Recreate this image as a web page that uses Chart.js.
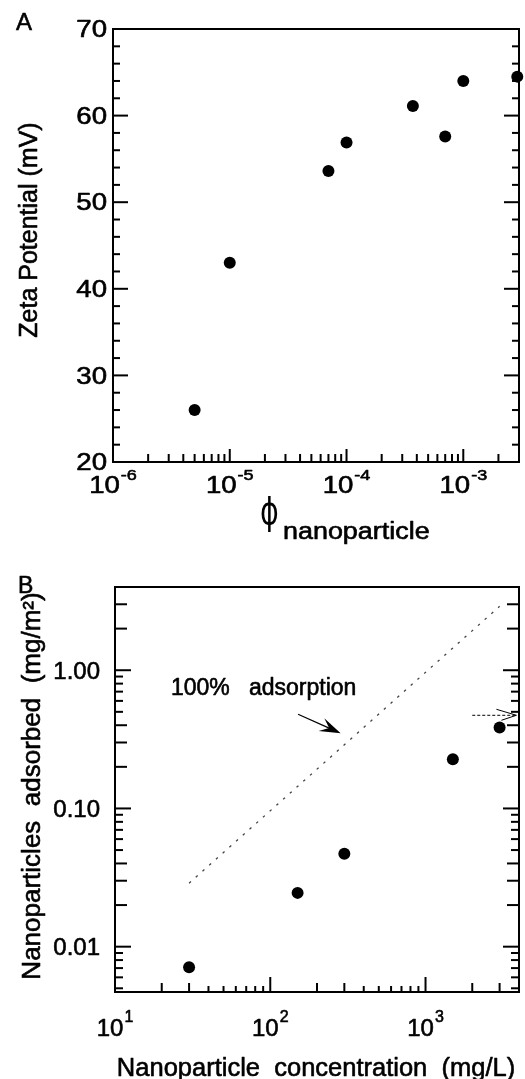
<!DOCTYPE html>
<html>
<head>
<meta charset="utf-8">
<script src="https://cdn.jsdelivr.net/npm/chart.js@4.4.1/dist/chart.umd.min.js"></script>
<style>
html, body { margin: 0; padding: 0; background: #fff; overflow: hidden; }
#wrapA { position: absolute; left: 0; top: 0; width: 525px; height: 550px; }
#wrapB { position: absolute; left: 0; top: 550px; width: 525px; height: 529px; }
</style>
</head>
<body>
<div id="wrapA"><canvas id="cA"></canvas></div>
<div id="wrapB"><canvas id="cB"></canvas></div>
<script>
// ---------- Panel A data ----------
const phiValues  = [5e-6, 1e-5, 7e-5, 1e-4, 3.7e-4, 7e-4, 1e-3, 2.9e-3];
const zetaValues = [26, 43, 53.6, 56.9, 61.1, 57.6, 64.0, 64.5];
const zetaTickValues = [20, 30, 40, 50, 60, 70];
const phiTickExponents = [-6, -5, -4, -3];

// ---------- Panel B data ----------
const concValues     = [30, 150, 300, 1500, 3000];
const adsorbedValues = [0.0071, 0.0245, 0.047, 0.227, 0.385];
const fullAdsorptionX = [30, 3000];
const fullAdsorptionY = [0.0288, 2.9];
const labelArrowX = [151, 284];
const labelArrowY = [0.48, 0.35];
const rightArrowX = [2000, 3850];
const rightArrowY = [0.472, 0.472];
const adsTickValues = [0.01, 0.1, 1];
const adsTickLabels = ['0.01', '0.10', '1.00'];
const concTickExponents = [1, 2, 3];

const FONT = "'Liberation Sans', Arial, Helvetica, sans-serif";

function txt(ctx, s, x, y, size, opts) {
  opts = opts || {};
  ctx.save();
  ctx.font = size + 'px ' + (opts.family || FONT);
  ctx.fillStyle = '#000';
  ctx.strokeStyle = '#000';
  ctx.lineWidth = 0.6;
  ctx.lineJoin = 'round';
  ctx.textAlign = opts.align || 'left';
  ctx.textBaseline = 'alphabetic';
  ctx.translate(x, y);
  if (opts.rot) ctx.rotate(opts.rot);
  ctx.scale(opts.sx || 1, 1);
  ctx.fillText(s, 0, 0);
  ctx.strokeText(s, 0, 0);
  ctx.restore();
}
function textW(ctx, s, size, sx) {
  ctx.save();
  ctx.font = size + 'px ' + FONT;
  const w = ctx.measureText(s).width * (sx || 1);
  ctx.restore();
  return w;
}
function powLabel(ctx, exp, x, baseY, size, supSize, supRise, sx) {
  const b = '10', e = String(exp);
  const w1 = textW(ctx, b, size, sx), w2 = textW(ctx, e, supSize, sx);
  const gap = 1;
  const start = x - (w1 + gap + w2) / 2;
  txt(ctx, b, start, baseY, size, { sx: sx });
  txt(ctx, e, start + w1 + gap, baseY - supRise, supSize, { sx: sx });
}
function seg(ctx, x1, y1, x2, y2) {
  ctx.beginPath(); ctx.moveTo(x1, y1); ctx.lineTo(x2, y2); ctx.stroke();
}
function logTicks(min, max) {
  const out = [];
  for (let e = Math.floor(Math.log10(min)); e <= Math.ceil(Math.log10(max)); e++) {
    for (let m = 1; m <= 9; m++) {
      const v = m * Math.pow(10, e);
      if (v >= min * 0.9999 && v <= max * 1.0001) out.push({ v: v, m: m });
    }
  }
  return out;
}

// ---------- Panel A plugin ----------
const panelAPlugin = {
  id: 'panelA',
  afterDraw(chart) {
    const ctx = chart.ctx, a = chart.chartArea;
    const xs = chart.scales.x, ys = chart.scales.y;
    ctx.save();
    ctx.strokeStyle = '#000';
    ctx.lineWidth = 2;
    ctx.strokeRect(a.left, a.top, a.right - a.left, a.bottom - a.top);
    for (let v = ys.min; v <= ys.max + 1e-9; v += 2) {
      const y = ys.getPixelForValue(v);
      const major = Math.abs(v % 10) < 1e-6;
      const len = major ? 15 : 7;
      seg(ctx, a.left, y, a.left + len, y);
      seg(ctx, a.right, y, a.right - len, y);
    }
    logTicks(xs.min, xs.max).forEach(t => {
      const x = xs.getPixelForValue(t.v);
      const len = t.m === 1 ? 13 : 8;
      seg(ctx, x, a.bottom, x, a.bottom - len);
    });
    ctx.restore();
    const SX = 1.2;
    zetaTickValues.forEach(v => {
      const y = ys.getPixelForValue(v);
      txt(ctx, String(v), 107, y + 0.358 * 23, 23, { align: 'right', sx: SX });
    });
    phiTickExponents.forEach(e => {
      const x = xs.getPixelForValue(Math.pow(10, e));
      powLabel(ctx, e, x, 493, 23, 15, 13, SX);
    });
    txt(ctx, 'A', 16, 30, 24);
    txt(ctx, 'Zeta Potential (mV)', 37, 230, 25, { align: 'center', rot: -Math.PI / 2 });
    // phi symbol (tall, narrow, straight stem)
    ctx.save();
    ctx.font = '38px "DejaVu Sans", sans-serif';
    ctx.fillStyle = '#000';
    ctx.translate(260, 524);
    ctx.scale(0.75, 1);
    ctx.fillText('\u03D5', 0, 0);
    ctx.restore();
    txt(ctx, 'nanoparticle', 283, 539, 23, { sx: 1.17 });
  }
};

// ---------- Panel B plugin ----------
const panelBPlugin = {
  id: 'panelB',
  afterDraw(chart) {
    const ctx = chart.ctx, a = chart.chartArea;
    const xs = chart.scales.x, ys = chart.scales.y;
    ctx.save();
    ctx.strokeStyle = '#000';
    ctx.lineWidth = 2;
    ctx.strokeRect(a.left, a.top, a.right - a.left, a.bottom - a.top);
    logTicks(ys.min, ys.max).forEach(t => {
      const y = ys.getPixelForValue(t.v);
      const len = t.m === 1 ? 16 : (t.m <= 4 ? 12 : 8);
      seg(ctx, a.left, y, a.left + len, y);
      seg(ctx, a.right, y, a.right - len, y);
    });
    logTicks(xs.min, xs.max).forEach(t => {
      const x = xs.getPixelForValue(t.v);
      const len = t.m === 1 ? 15 : (t.m <= 3 ? 9 : 6);
      seg(ctx, x, a.bottom, x, a.bottom - len);
    });
    // label arrow (solid line, filled barbed head)
    const x0 = xs.getPixelForValue(labelArrowX[0]), y0 = ys.getPixelForValue(labelArrowY[0]);
    const x1 = xs.getPixelForValue(labelArrowX[1]), y1 = ys.getPixelForValue(labelArrowY[1]);
    let ang = Math.atan2(y1 - y0, x1 - x0);
    const hl = 21, hw = 7;
    const c = Math.cos(ang), s = Math.sin(ang);
    ctx.lineWidth = 1.2;
    seg(ctx, x0, y0, x1 - c * hl * 0.6, y1 - s * hl * 0.6);
    ctx.beginPath();
    ctx.moveTo(x1, y1);
    ctx.lineTo(x1 - c * hl - s * hw, y1 - s * hl + c * hw);
    ctx.lineTo(x1 - c * hl * 0.6, y1 - s * hl * 0.6);
    ctx.lineTo(x1 - c * hl + s * hw, y1 - s * hl - c * hw);
    ctx.closePath();
    ctx.fillStyle = '#000';
    ctx.fill();
    // right arrow (dashed line, open head)
    const u0 = xs.getPixelForValue(rightArrowX[0]), v0 = ys.getPixelForValue(rightArrowY[0]);
    const u1 = xs.getPixelForValue(rightArrowX[1]), v1 = ys.getPixelForValue(rightArrowY[1]);
    ctx.lineWidth = 1;
    ctx.setLineDash([3, 2]);
    seg(ctx, u0, v0, u1, v1);
    ctx.setLineDash([]);
    ang = Math.atan2(v1 - v0, u1 - u0);
    const c2 = Math.cos(ang), s2 = Math.sin(ang);
    seg(ctx, u1, v1, u1 - c2 * 20 + s2 * 6, v1 - s2 * 20 - c2 * 6);
    seg(ctx, u1, v1, u1 - c2 * 15 - s2 * 5, v1 - s2 * 15 + c2 * 5);
    ctx.restore();
    adsTickValues.forEach((v, i) => {
      const y = ys.getPixelForValue(v);
      txt(ctx, adsTickLabels[i], 100, y + 0.358 * 24, 24, { align: 'right' });
    });
    concTickExponents.forEach(e => {
      const x = xs.getPixelForValue(Math.pow(10, e));
      powLabel(ctx, e, x, 486, 24, 16, 14, 1);
    });
    txt(ctx, 'B', 18, 43, 23);
    txt(ctx, 'Nanoparticles  adsorbed  (mg/m\u00B2)', 40, 236, 26, { align: 'center', rot: -Math.PI / 2 });
    txt(ctx, 'Nanoparticle  concentration  (mg/L)', 316, 526, 25.5, { align: 'center' });
    txt(ctx, '100%   adsorption', 171, 145, 23);
  }
};

Chart.defaults.animation = false;

new Chart(document.getElementById('cA'), {
  type: 'scatter',
  data: {
    datasets: [{
      data: phiValues.map((x, i) => ({ x: x, y: zetaValues[i] })),
      pointRadius: 6, pointHoverRadius: 6,
      pointBackgroundColor: '#000', pointBorderColor: '#000', pointBorderWidth: 0,
      clip: false
    }]
  },
  options: {
    responsive: true, maintainAspectRatio: false,
    layout: { padding: { left: 113, top: 29, right: 2, bottom: 88 } },
    plugins: { legend: { display: false }, tooltip: { enabled: false } },
    scales: {
      x: { type: 'logarithmic', min: 1e-6, max: 3e-3, display: false },
      y: { type: 'linear', min: 20, max: 70, display: false }
    }
  },
  plugins: [panelAPlugin]
});

new Chart(document.getElementById('cB'), {
  type: 'scatter',
  data: {
    datasets: [
      {
        data: concValues.map((x, i) => ({ x: x, y: adsorbedValues[i] })),
        pointRadius: 6, pointHoverRadius: 6,
        pointBackgroundColor: '#000', pointBorderColor: '#000', pointBorderWidth: 0,
        clip: false
      },
      {
        data: fullAdsorptionX.map((x, i) => ({ x: x, y: fullAdsorptionY[i] })),
        showLine: true, pointRadius: 0, borderColor: '#444', borderWidth: 1.3,
        borderDash: [2.5, 6.5], fill: false
      }
    ]
  },
  options: {
    responsive: true, maintainAspectRatio: false,
    layout: { padding: { left: 115, top: 37, right: 2, bottom: 87 } },
    plugins: { legend: { display: false }, tooltip: { enabled: false } },
    scales: {
      x: { type: 'logarithmic', min: 10, max: 4000, display: false },
      y: { type: 'logarithmic', min: 0.0047, max: 4, display: false }
    }
  },
  plugins: [panelBPlugin]
});
</script>
</body>
</html>
